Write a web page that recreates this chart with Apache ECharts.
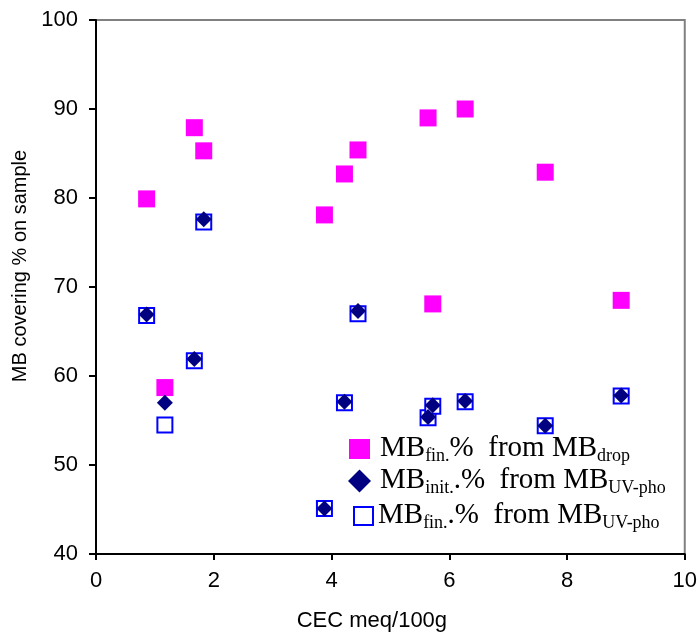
<!DOCTYPE html>
<html>
<head>
<meta charset="utf-8">
<script src="https://cdn.jsdelivr.net/npm/echarts@6/dist/echarts.min.js"></script>
<style>
html,body{margin:0;padding:0;background:#fff;}
#chart{width:700px;height:639px;}
</style>
</head>
<body>
<div id="chart"></div>
<script>
// CEC values (meq/100g) of the samples
const cec = [0.86, 1.17, 1.67, 1.83, 3.88, 4.22, 4.45, 5.64, 5.72, 6.27, 7.63, 8.92];
// MB_fin.% from MB_drop
const mbFinDrop = [79.9, 58.7, 87.9, 85.3, 78.1, 82.7, 85.4, 89.0, 68.1, 90.0, 82.9, 68.5];
// MB_init.% from MB_UV-pho
const mbInitUV = [66.9, 57.0, 61.9, 77.6, 45.1, 57.1, 67.3, 55.4, 56.7, 57.2, 54.4, 57.8];
// MB_fin.% from MB_UV-pho
const mbFinUV = [66.8, 54.5, 61.7, 77.3, 45.1, 57.0, 67.0, 55.3, 56.6, 57.1, 54.4, 57.75];
const xTicks = [0, 2, 4, 6, 8, 10];
const yTicks = [40, 50, 60, 70, 80, 90, 100];

const pair = (xs, ys) => xs.map((x, i) => [x, ys[i]]);

const rich = {
  m: {fontFamily: 'Liberation Serif', fontSize: 29, color: '#000', lineHeight: 30, verticalAlign: 'top'},
  s: {fontFamily: 'Liberation Serif', fontSize: 18, color: '#000', lineHeight: 18, padding: [13, 0, 0, 0], verticalAlign: 'top'}
};
function legendDef(name, fmt, left, top, w, h, icon, itemStyle, padLeft) {
  return {
    data: [{name: name, icon: icon, itemStyle: itemStyle}],
    left: left, top: top, padding: 0,
    itemWidth: w, itemHeight: h,
    selectedMode: false,
    formatter: fmt,
    textStyle: {padding: [0, 0, 0, padLeft], rich: rich}
  };
}

const chart = echarts.init(document.getElementById('chart'));
chart.setOption({
  animation: false,
  backgroundColor: '#fff',
  grid: {left: 96, right: 14, top: 20, bottom: 85, show: true, borderColor: '#808080', borderWidth: 2},
  xAxis: {
    type: 'value', min: xTicks[0], max: xTicks[xTicks.length - 1], interval: 2,
    name: 'CEC meq/100g', nameLocation: 'middle', nameGap: 56,
    nameTextStyle: {fontFamily: 'Liberation Sans', fontSize: 22, color: '#000', padding: [0, 37, 0, 0]},
    axisLine: {lineStyle: {color: '#000', width: 2}},
    axisTick: {inside: false, length: 6, lineStyle: {color: '#000', width: 2}},
    axisLabel: {fontFamily: 'Liberation Sans', fontSize: 22, color: '#000', margin: 16},
    splitLine: {show: false}
  },
  yAxis: {
    type: 'value', min: yTicks[0], max: yTicks[yTicks.length - 1], interval: 10,
    name: 'MB covering % on sample', nameLocation: 'middle', nameGap: 62, nameRotate: 90,
    nameTextStyle: {fontFamily: 'Liberation Sans', fontSize: 20, color: '#000', padding: [0, 0, 0, 42]},
    axisLine: {lineStyle: {color: '#000', width: 2}},
    axisTick: {inside: false, length: 7, lineStyle: {color: '#000', width: 2}},
    axisLabel: {fontFamily: 'Liberation Sans', fontSize: 22, color: '#000', margin: 18},
    splitLine: {show: false}
  },
  legend: [
    legendDef('dropFin', '{m|MB}{s|fin.}{m|%  from MB}{s|drop}', 349, 434, 21, 20, 'rect', {color: '#ff00ff'}, 5),
    legendDef('uvInit', '{m|MB}{s|init.}{m|.%  from MB}{s|UV-pho}', 348, 466, 23, 23, 'diamond', {color: '#000080'}, 4),
    legendDef('uvFin', '{m|MB}{s|fin.}{m|.%  from MB}{s|UV-pho}', 353, 501, 19, 18, 'rect', {color: '#ffffff', borderColor: '#0000ff', borderWidth: 2}, 0)
  ],
  series: [
    {name: 'dropFin', type: 'scatter', symbol: 'rect', symbolSize: 17, data: pair(cec, mbFinDrop),
     itemStyle: {color: '#ff00ff', opacity: 1}, z: 2},
    {name: 'uvFin', type: 'scatter', symbol: 'rect', symbolSize: 15, data: pair(cec, mbFinUV),
     itemStyle: {color: '#ffffff', borderColor: '#0000ff', borderWidth: 2, opacity: 1}, z: 3},
    {name: 'uvInit', type: 'scatter', symbol: 'diamond', symbolSize: 16, data: pair(cec, mbInitUV),
     itemStyle: {color: '#000080', opacity: 1}, z: 4}
  ]
});
</script>
</body>
</html>
